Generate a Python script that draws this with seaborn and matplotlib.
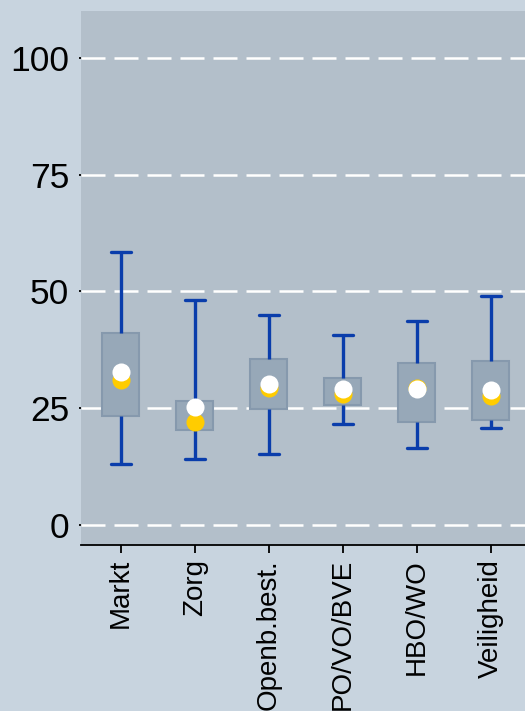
import matplotlib
matplotlib.use("Agg")
import matplotlib.pyplot as plt
import seaborn as sns
import pandas as pd

# Sector box statistics (scores 0-100)
categories = ["Markt", "Zorg", "Openb.best.", "PO/VO/BVE", "HBO/WO", "Veiligheid"]
whisker_low = [13.1, 14.1, 15.1, 21.7, 16.5, 20.7]
quartile_1 = [23.3, 20.3, 24.8, 25.6, 22.0, 22.4]
median = [32.0, 23.5, 30.0, 28.5, 29.0, 28.5]
quartile_3 = [41.0, 26.6, 35.5, 31.5, 34.6, 35.0]
whisker_high = [58.5, 48.2, 45.0, 40.6, 43.7, 49.0]
yellow_points = [31.0, 22.1, 29.3, 28.0, 29.2, 27.6]
white_points = [32.8, 25.3, 30.2, 29.0, 29.0, 28.9]
y_ticks = [0, 25, 50, 75, 100]

FIG_BG = "#c8d4df"
AX_BG = "#b3bfca"
BOX_FACE = "#97a8b8"
BOX_EDGE = "#8699ad"
WHISKER = "#0a3dab"
YELLOW = "#ffcc00"

# Five values per sector so the full-range box reproduces the stats
rows = []
for i, cat in enumerate(categories):
    for v in (whisker_low[i], quartile_1[i], median[i], quartile_3[i], whisker_high[i]):
        rows.append({"sector": cat, "score": v})
box_df = pd.DataFrame(rows)
pts_df = pd.DataFrame({"sector": categories, "yellow": yellow_points, "white": white_points})

sns.set_style("white")
plt.rcParams["font.family"] = ["Liberation Sans", "DejaVu Sans"]

fig = plt.figure(figsize=(5.25, 7.11), dpi=100)
fig.patch.set_facecolor(FIG_BG)
ax = fig.add_axes([81 / 525, 1 - 545 / 711, 444 / 525, 534 / 711])
ax.set_facecolor(AX_BG)

sns.boxplot(
    data=box_df, x="sector", y="score", order=categories, ax=ax,
    whis=(0, 100), width=0.5, color=BOX_FACE, linecolor=BOX_EDGE, linewidth=1.5,
    fill=True, saturation=1, capwidths=0.28,
    whiskerprops=dict(color=WHISKER, linewidth=2.4),
    capprops=dict(color=WHISKER, linewidth=2.4),
    medianprops=dict(linewidth=0),
    boxprops=dict(facecolor=BOX_FACE, edgecolor=BOX_EDGE, linewidth=1.5),
)

sns.stripplot(data=pts_df, x="sector", y="yellow", order=categories, ax=ax,
              jitter=False, size=13, color=YELLOW, linewidth=0, zorder=4)
sns.stripplot(data=pts_df, x="sector", y="white", order=categories, ax=ax,
              jitter=False, size=13, color="white", linewidth=0, zorder=5)

ax.set_xlim(-0.54, 5.46)
ax.set_ylim(-4.3, 110)
ax.set_yticks(y_ticks)
ax.set_yticklabels([str(t) for t in y_ticks])
ax.set_xlabel("")
ax.set_ylabel("")

ax.set_axisbelow(True)
ax.yaxis.grid(True, color="white", linewidth=1.8, linestyle=(0, (9.6, 3.6)))
ax.xaxis.grid(False)

for side in ("top", "right", "left"):
    ax.spines[side].set_visible(False)
ax.spines["bottom"].set_color("black")
ax.spines["bottom"].set_linewidth(1.3)

ax.tick_params(axis="y", length=1.5, width=1.3, color="black", labelcolor="black",
               labelsize=25.5, pad=7, left=True)
ax.tick_params(axis="x", length=6, width=1.3, color="black", labelcolor="black",
               labelsize=20, pad=4, bottom=True, labelrotation=90)

fig.savefig("out.png", dpi=100, facecolor=FIG_BG)
